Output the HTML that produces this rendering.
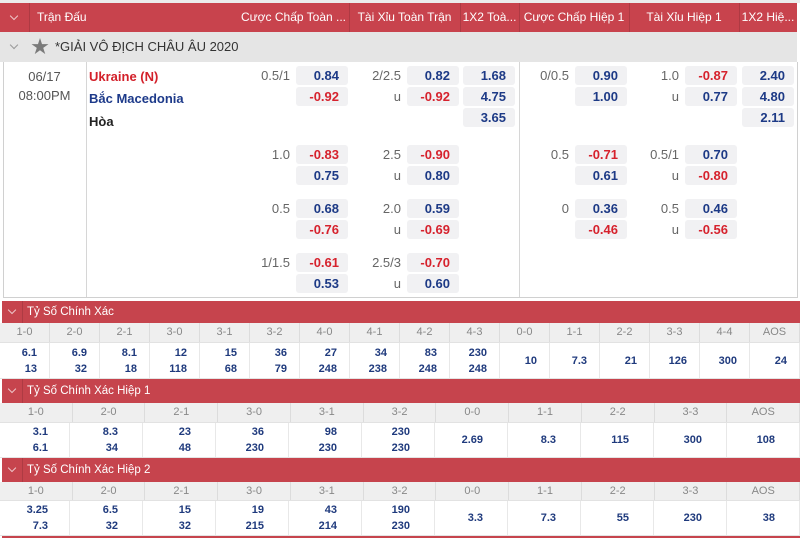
<!DOCTYPE html>
<html><head><meta charset="utf-8">
<style>
*{box-sizing:border-box}
body{margin:0;width:800px;height:538px;overflow:hidden;background:#fff;font-family:"Liberation Sans","Noto Sans CJK SC",sans-serif;position:relative}
.a{position:absolute}
.hd{position:absolute;top:3px;height:29px;line-height:29px;color:#fff;font-size:12px;white-space:nowrap;overflow:hidden;text-align:center}
.sep{position:absolute;width:1px;background:rgba(0,0,0,0.13)}
.b{position:absolute;width:52px;height:19px;line-height:19px;background:#f1f1f3;border-radius:3px;text-align:right;padding-right:9px;font-weight:bold;font-size:13px;color:#1d3a86}
.b.r{color:#d6222d}
.l{position:absolute;width:50px;height:19px;line-height:19px;text-align:right;font-size:13px;color:#666}
.bar{position:absolute;left:2px;width:798px;background:#c6444d;color:#fff;font-size:11.5px}
.bar .cv{position:absolute;left:0;top:0;width:21px;height:100%;border-right:1px solid rgba(0,0,0,0.12)}
.bar .t{position:absolute;left:25px;top:0;height:100%}
.chev{position:absolute;width:6px;height:6px;border-right:1px solid;border-bottom:1px solid;transform:rotate(45deg)}
.th{position:absolute;left:0;width:800px;display:flex;background:#efefef;border-bottom:1px solid #e2e2e2}
.th div{flex:1;text-align:center;font-size:11px;color:#888;border-right:1px solid #dcdcdc}
.tr{position:absolute;left:0;width:800px;display:flex;background:#fff;border-bottom:1px solid #e4e4e4}
.tr div{flex:1;border-right:1px solid #e8e8e8;text-align:right;font-weight:bold;font-size:11px;color:#1f3a7d}
</style></head><body>

<!-- top strip -->
<div class="a" style="left:0;top:0;width:800px;height:3px;background:#ececec"></div>
<!-- header -->
<div class="a" style="left:0;top:3px;width:797px;height:29px;background:#c8434d"></div>
<div class="chev" style="left:11px;top:13px;color:rgba(255,255,255,0.7)"></div>
<div class="hd" style="left:29px;width:209px;text-align:left;padding-left:8px">Trận Đấu</div>
<div class="hd" style="left:238px;width:111px">Cược Chấp Toàn ...</div>
<div class="hd" style="left:349px;width:111px">Tài Xỉu Toàn Trận</div>
<div class="hd" style="left:460px;width:59px">1X2 Toà...</div>
<div class="hd" style="left:519px;width:110px">Cược Chấp Hiệp 1</div>
<div class="hd" style="left:629px;width:110px">Tài Xỉu Hiệp 1</div>
<div class="hd" style="left:739px;width:58px">1X2 Hiệ...</div>
<div class="sep" style="left:29px;top:3px;height:29px"></div>
<div class="sep" style="left:349px;top:3px;height:29px"></div>
<div class="sep" style="left:460px;top:3px;height:29px"></div>
<div class="sep" style="left:519px;top:3px;height:29px"></div>
<div class="sep" style="left:629px;top:3px;height:29px"></div>
<div class="sep" style="left:739px;top:3px;height:29px"></div>

<!-- group row -->
<div class="a" style="left:0;top:32px;width:797px;height:30px;background:#e5e5e5"></div>
<div class="chev" style="left:11px;top:42px;color:#999"></div>
<div class="a" style="left:31px;top:32px;height:30px;line-height:30px;color:#7a7a7a;font-size:18px">&#9733;</div>
<div class="a" style="left:55px;top:32px;height:30px;line-height:30px;color:#333;font-size:13px;white-space:nowrap">*GIẢI VÔ ĐỊCH CHÂU ÂU 2020</div>

<!-- content frame -->
<div class="a" style="left:3px;top:62px;width:795px;height:236px;border:1px solid #d0d0d0;border-top:none"></div>
<div class="a" style="left:86px;top:62px;width:1px;height:235px;background:#d6d6d6"></div>
<div class="a" style="left:519px;top:62px;width:1px;height:235px;background:#d6d6d6"></div>

<!-- date and teams -->
<div class="a" style="left:3px;top:67px;width:83px;line-height:19px;text-align:center;font-size:13px;color:#555">06/17</div>
<div class="a" style="left:3px;top:86px;width:83px;line-height:19px;text-align:center;font-size:13px;color:#555">08:00PM</div>
<div class="a" style="left:89px;top:67px;line-height:19px;font-size:13px;font-weight:bold;color:#d3202a;white-space:nowrap">Ukraine (N)</div>
<div class="a" style="left:89px;top:89px;line-height:19px;font-size:13px;font-weight:bold;color:#1d3a8a;white-space:nowrap">Bắc Macedonia</div>
<div class="a" style="left:89px;top:112px;line-height:19px;font-size:13px;font-weight:bold;color:#222;white-space:nowrap">Hòa</div>

<!-- Group 1 -->
<div class="l" style="left:240px;top:66px">0.5/1</div>
<div class="b" style="left:296px;top:66px">0.84</div>
<div class="b r" style="left:296px;top:87px">-0.92</div>
<div class="l" style="left:351px;top:66px">2/2.5</div>
<div class="b" style="left:407px;top:66px">0.82</div>
<div class="l" style="left:351px;top:87px">u</div>
<div class="b r" style="left:407px;top:87px">-0.92</div>
<div class="b" style="left:463px;top:66px">1.68</div>
<div class="b" style="left:463px;top:87px">4.75</div>
<div class="b" style="left:463px;top:108px">3.65</div>
<div class="l" style="left:519px;top:66px">0/0.5</div>
<div class="b" style="left:575px;top:66px">0.90</div>
<div class="b" style="left:575px;top:87px">1.00</div>
<div class="l" style="left:629px;top:66px">1.0</div>
<div class="b r" style="left:685px;top:66px">-0.87</div>
<div class="l" style="left:629px;top:87px">u</div>
<div class="b" style="left:685px;top:87px">0.77</div>
<div class="b" style="left:742px;top:66px">2.40</div>
<div class="b" style="left:742px;top:87px">4.80</div>
<div class="b" style="left:742px;top:108px">2.11</div>

<!-- Group 2 -->
<div class="l" style="left:240px;top:145px">1.0</div>
<div class="b r" style="left:296px;top:145px">-0.83</div>
<div class="b" style="left:296px;top:166px">0.75</div>
<div class="l" style="left:351px;top:145px">2.5</div>
<div class="b r" style="left:407px;top:145px">-0.90</div>
<div class="l" style="left:351px;top:166px">u</div>
<div class="b" style="left:407px;top:166px">0.80</div>
<div class="l" style="left:519px;top:145px">0.5</div>
<div class="b r" style="left:575px;top:145px">-0.71</div>
<div class="b" style="left:575px;top:166px">0.61</div>
<div class="l" style="left:629px;top:145px">0.5/1</div>
<div class="b" style="left:685px;top:145px">0.70</div>
<div class="l" style="left:629px;top:166px">u</div>
<div class="b r" style="left:685px;top:166px">-0.80</div>

<!-- Group 3 -->
<div class="l" style="left:240px;top:199px">0.5</div>
<div class="b" style="left:296px;top:199px">0.68</div>
<div class="b r" style="left:296px;top:220px">-0.76</div>
<div class="l" style="left:351px;top:199px">2.0</div>
<div class="b" style="left:407px;top:199px">0.59</div>
<div class="l" style="left:351px;top:220px">u</div>
<div class="b r" style="left:407px;top:220px">-0.69</div>
<div class="l" style="left:519px;top:199px">0</div>
<div class="b" style="left:575px;top:199px">0.36</div>
<div class="b r" style="left:575px;top:220px">-0.46</div>
<div class="l" style="left:629px;top:199px">0.5</div>
<div class="b" style="left:685px;top:199px">0.46</div>
<div class="l" style="left:629px;top:220px">u</div>
<div class="b r" style="left:685px;top:220px">-0.56</div>

<!-- Group 4 -->
<div class="l" style="left:240px;top:253px">1/1.5</div>
<div class="b r" style="left:296px;top:253px">-0.61</div>
<div class="b" style="left:296px;top:274px">0.53</div>
<div class="l" style="left:351px;top:253px">2.5/3</div>
<div class="b r" style="left:407px;top:253px">-0.70</div>
<div class="l" style="left:351px;top:274px">u</div>
<div class="b" style="left:407px;top:274px">0.60</div>

<!-- Table 1 -->
<div class="bar" style="top:301px;height:22px;line-height:22px"><div class="cv"><div class="chev" style="left:7px;top:6px;color:rgba(255,255,255,0.7)"></div></div><div class="t">Tỷ Số Chính Xác</div></div>
<div class="th" style="top:323px;height:20px;line-height:19px">
<div>1-0</div><div>2-0</div><div>2-1</div><div>3-0</div><div>3-1</div><div>3-2</div><div>4-0</div><div>4-1</div><div>4-2</div><div>4-3</div><div>0-0</div><div>1-1</div><div>2-2</div><div>3-3</div><div>4-4</div><div>AOS</div>
</div>
<div class="tr" style="top:343px;height:36px">
<div style="padding:2px 12px 0 0;line-height:16px">6.1<br>13</div>
<div style="padding:2px 12px 0 0;line-height:16px">6.9<br>32</div>
<div style="padding:2px 12px 0 0;line-height:16px">8.1<br>18</div>
<div style="padding:2px 12px 0 0;line-height:16px">12<br>118</div>
<div style="padding:2px 12px 0 0;line-height:16px">15<br>68</div>
<div style="padding:2px 12px 0 0;line-height:16px">36<br>79</div>
<div style="padding:2px 12px 0 0;line-height:16px">27<br>248</div>
<div style="padding:2px 12px 0 0;line-height:16px">34<br>238</div>
<div style="padding:2px 12px 0 0;line-height:16px">83<br>248</div>
<div style="padding:2px 12px 0 0;line-height:16px">230<br>248</div>
<div style="padding-right:12px;line-height:36px">10</div>
<div style="padding-right:12px;line-height:36px">7.3</div>
<div style="padding-right:12px;line-height:36px">21</div>
<div style="padding-right:12px;line-height:36px">126</div>
<div style="padding-right:12px;line-height:36px">300</div>
<div style="padding-right:12px;line-height:36px">24</div>
</div>

<!-- Table 2 -->
<div class="bar" style="top:379px;height:24px;line-height:24px"><div class="cv"><div class="chev" style="left:7px;top:7px;color:rgba(255,255,255,0.7)"></div></div><div class="t">Tỷ Số Chính Xác Hiệp 1</div></div>
<div class="th" style="top:403px;height:20px;line-height:19px">
<div>1-0</div><div>2-0</div><div>2-1</div><div>3-0</div><div>3-1</div><div>3-2</div><div>0-0</div><div>1-1</div><div>2-2</div><div>3-3</div><div>AOS</div>
</div>
<div class="tr" style="top:423px;height:35px">
<div style="padding:1px 21px 0 0;line-height:16px">3.1<br>6.1</div>
<div style="padding:1px 24px 0 0;line-height:16px">8.3<br>34</div>
<div style="padding:1px 24px 0 0;line-height:16px">23<br>48</div>
<div style="padding:1px 24px 0 0;line-height:16px">36<br>230</div>
<div style="padding:1px 24px 0 0;line-height:16px">98<br>230</div>
<div style="padding:1px 24px 0 0;line-height:16px">230<br>230</div>
<div style="padding-right:24px;line-height:34px">2.69</div>
<div style="padding-right:24px;line-height:34px">8.3</div>
<div style="padding-right:24px;line-height:34px">115</div>
<div style="padding-right:24px;line-height:34px">300</div>
<div style="padding-right:24px;line-height:34px">108</div>
</div>

<!-- Table 3 -->
<div class="bar" style="top:458px;height:24px;line-height:24px"><div class="cv"><div class="chev" style="left:7px;top:7px;color:rgba(255,255,255,0.7)"></div></div><div class="t">Tỷ Số Chính Xác Hiệp 2</div></div>
<div class="th" style="top:482px;height:19px;line-height:18px">
<div>1-0</div><div>2-0</div><div>2-1</div><div>3-0</div><div>3-1</div><div>3-2</div><div>0-0</div><div>1-1</div><div>2-2</div><div>3-3</div><div>AOS</div>
</div>
<div class="tr" style="top:501px;height:35px">
<div style="padding:1px 21px 0 0;line-height:16px">3.25<br>7.3</div>
<div style="padding:1px 24px 0 0;line-height:16px">6.5<br>32</div>
<div style="padding:1px 24px 0 0;line-height:16px">15<br>32</div>
<div style="padding:1px 24px 0 0;line-height:16px">19<br>215</div>
<div style="padding:1px 24px 0 0;line-height:16px">43<br>214</div>
<div style="padding:1px 24px 0 0;line-height:16px">190<br>230</div>
<div style="padding-right:24px;line-height:34px">3.3</div>
<div style="padding-right:24px;line-height:34px">7.3</div>
<div style="padding-right:24px;line-height:34px">55</div>
<div style="padding-right:24px;line-height:34px">230</div>
<div style="padding-right:24px;line-height:34px">38</div>
</div>
<div class="a" style="left:2px;top:536px;width:798px;height:2px;background:#c6444d"></div>

</body></html>
